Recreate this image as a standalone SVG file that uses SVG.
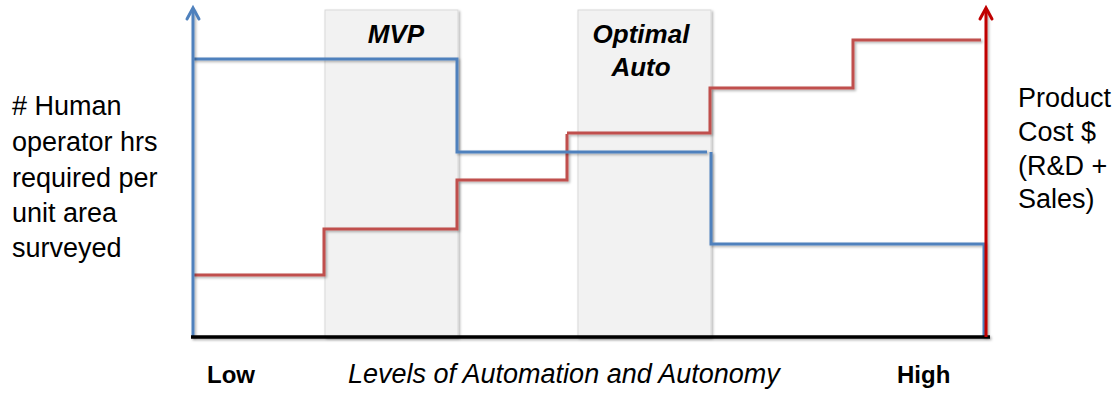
<svg xmlns="http://www.w3.org/2000/svg" width="1120" height="396" viewBox="0 0 1120 396">
  <defs>
    <filter id="sh" filterUnits="userSpaceOnUse" x="0" y="0" width="1120" height="396">
      <feDropShadow dx="1.5" dy="1.5" stdDeviation="1" flood-color="#000" flood-opacity="0.3"/>
    </filter>
  </defs>
  <style>
    .band { fill: #f2f2f2; stroke: #d9d9d9; stroke-width: 1; }
    .lbl { font-family: "Liberation Sans", Arial, sans-serif; font-size: 27px; fill: #000; }
    .bi { font-family: "Liberation Sans", Arial, sans-serif; font-size: 26px; font-weight: bold; font-style: italic; fill: #000; }
    .b { font-family: "Liberation Sans", Arial, sans-serif; font-size: 24px; font-weight: bold; fill: #000; }
    .it { font-family: "Liberation Sans", Arial, sans-serif; font-size: 27px; font-style: italic; fill: #000; }
    .blue { fill: none; stroke: #4f81bd; stroke-width: 3; }
    .red { fill: none; stroke: #c0504d; stroke-width: 3; }
    .head { fill: none; stroke-width: 3; stroke-linecap: round; stroke-linejoin: miter; }
  </style>

  <g id="mvp-band">
    <rect class="band" x="325" y="10" width="133" height="327" filter="url(#sh)"/>
    <text class="bi" x="396" y="43" text-anchor="middle">MVP</text>
  </g>
  <g id="optimal-band">
    <rect class="band" x="578" y="10" width="133" height="327" filter="url(#sh)"/>
    <text class="bi" x="641" y="43" text-anchor="middle">Optimal</text>
    <text class="bi" x="641" y="76" text-anchor="middle">Auto</text>
  </g>

  <g id="connectors">
    <path class="red" filter="url(#sh)" d="M193,275 H324 V229 H457 V180 H567 V134 M567,133 H710 V88 H853 V40 H981"/>
    <path class="blue" filter="url(#sh)" d="M193,59 H457 V152 H707"/>
    <path class="blue" filter="url(#sh)" d="M711,152 V244 H984 V337"/>
    <line x1="193" y1="337" x2="193" y2="9" stroke="#4f81bd" stroke-width="3" filter="url(#sh)"/>
    <path class="head" stroke="#4f81bd" d="M187,19 L193,8 L199,19"/>
    <line x1="191" y1="337" x2="990" y2="337" stroke="#000" stroke-width="3.5" filter="url(#sh)"/>
    <line x1="986" y1="337" x2="986" y2="9" stroke="#c00000" stroke-width="3" filter="url(#sh)"/>
    <path class="head" stroke="#c00000" d="M980,19 L986,8 L992,19"/>
  </g>

  <g id="y-left-label">
    <text class="lbl" x="12" y="115">
      <tspan x="12" y="115"># Human</tspan>
      <tspan x="12" y="151">operator hrs</tspan>
      <tspan x="12" y="187">required per</tspan>
      <tspan x="12" y="222">unit area</tspan>
      <tspan x="12" y="257">surveyed</tspan>
    </text>
  </g>
  <g id="y-right-label">
    <text class="lbl" x="1018" y="107">
      <tspan x="1018" y="107">Product</tspan>
      <tspan x="1018" y="141">Cost $</tspan>
      <tspan x="1018" y="175">(R&amp;D +</tspan>
      <tspan x="1018" y="208">Sales)</tspan>
    </text>
  </g>
  <g id="x-labels">
    <text class="b" x="207" y="383">Low</text>
    <text class="it" x="348" y="383">Levels of Automation and Autonomy</text>
    <text class="b" x="897" y="383">High</text>
  </g>
</svg>
